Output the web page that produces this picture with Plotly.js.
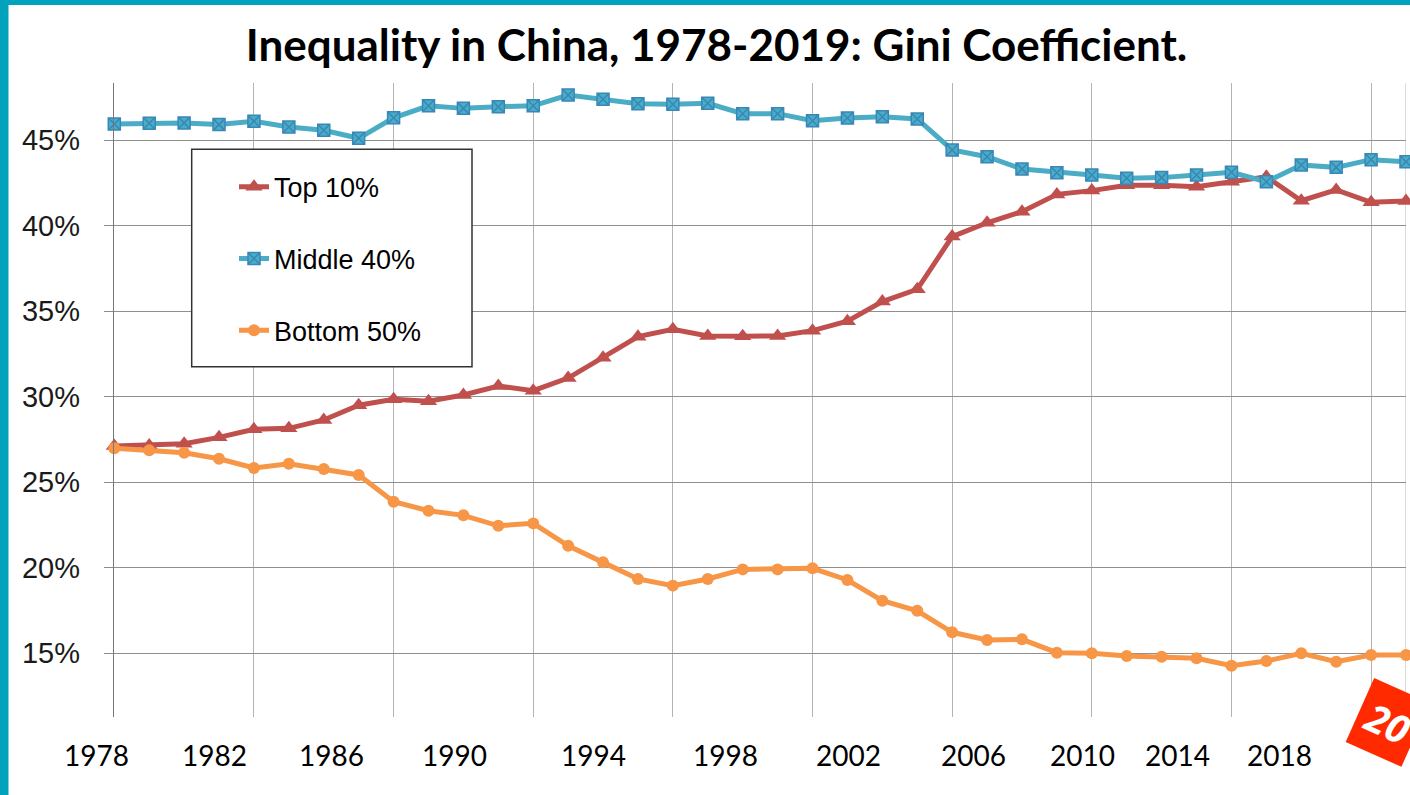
<!DOCTYPE html>
<html>
<head>
<meta charset="utf-8">
<script src="https://cdn.plot.ly/plotly-3.0.1.min.js"></script>
<style>html,body{margin:0;padding:0;background:#fff;}#chart{width:1410px;height:795px;}</style>
</head>
<body>
<div id="chart"></div>
<script>
// ---- data ----
const years = [1978,1979,1980,1981,1982,1983,1984,1985,1986,1987,1988,1989,1990,1991,1992,1993,1994,1995,1996,1997,1998,1999,2000,2001,2002,2003,2004,2005,2006,2007,2008,2009,2010,2011,2012,2013,2014,2015];
const top10 = [27.1,27.14,27.24,27.61,28.08,28.14,28.63,29.49,29.84,29.72,30.09,30.61,30.34,31.08,32.27,33.50,33.93,33.54,33.52,33.54,33.85,34.40,35.55,36.27,39.35,40.16,40.81,41.82,42.04,42.35,42.35,42.27,42.56,42.85,41.45,42.08,41.36,41.43];
const middle40 = [45.94,45.98,46.0,45.9,46.1,45.76,45.57,45.1,46.3,47.0,46.85,46.95,47.0,47.63,47.38,47.12,47.09,47.15,46.54,46.54,46.13,46.29,46.36,46.23,44.42,44.02,43.30,43.09,42.95,42.76,42.80,42.95,43.11,42.56,43.54,43.40,43.85,43.73];
const bottom50 = [26.97,26.85,26.71,26.36,25.82,26.07,25.76,25.41,23.85,23.32,23.05,22.44,22.58,21.27,20.30,19.33,18.94,19.33,19.89,19.89,19.95,19.27,18.06,17.47,16.21,15.76,15.80,15.02,14.98,14.82,14.78,14.69,14.26,14.53,14.98,14.49,14.88,14.88];
const seriesNames = ["Top 10%", "Middle 40%", "Bottom 50%"];
const xTickLabels = ["1978","1982","1986","1990","1994","1998","2002","2006","2010","2014","2018"];
const titleText = "Inequality in China, 1978-2019: Gini Coefficient.";
const badgeText = "20";

// ---- layout helpers (pixel geometry of the picture) ----
const W = 1410, H = 795;
const px = v => v / W;
const py = v => 1 - v / H;
const xTickCenters = [96.7,214,331,454.5,593.3,725,848.7,973.3,1082.5,1177,1279];

const traces = [
  {x: years, y: top10, name: seriesNames[0], legendgroup: 'a', type: 'scatter', mode: 'lines+markers',
   line: {color: '#C0504D', width: 5}, marker: {symbol: 'triangle-up', size: 15, color: '#C0504D'}, cliponaxis: false},
  {x: years, y: middle40, name: seriesNames[1], legendgroup: 'b', type: 'scatter', mode: 'lines+markers',
   line: {color: '#4BACC6', width: 5}, marker: {symbol: 'square-x', size: 12, color: '#4BACC6', line: {color: '#3787B8', width: 1.5}}, cliponaxis: false},
  {x: years, y: bottom50, name: seriesNames[2], legendgroup: 'c', type: 'scatter', mode: 'lines+markers',
   line: {color: '#F79646', width: 5}, marker: {symbol: 'circle', size: 12, color: '#F79646'}, cliponaxis: false}
];

const annotations = xTickLabels.map((t, i) => ({
  text: t, xref: 'paper', yref: 'paper', x: px(xTickCenters[i]), y: py(755),
  xanchor: 'center', yanchor: 'middle', showarrow: false,
  font: {family: 'Lato, "Open Sans", sans-serif', size: 28, color: '#000'}
}));
annotations.push({
  text: badgeText, xref: 'paper', yref: 'paper', x: px(1388), y: py(722),
  xanchor: 'center', yanchor: 'middle', showarrow: false, textangle: 24,
  bgcolor: '#FF2A00', borderpad: 8,
  font: {family: '"Open Sans", Lato, sans-serif', size: 39, color: '#fff', weight: 'bold', style: 'italic'}
});

const layout = {
  width: W, height: H,
  margin: {l: 0, r: 0, t: 0, b: 0, pad: 0},
  paper_bgcolor: '#fff', plot_bgcolor: '#fff',
  title: {text: titleText, x: px(716.5), xanchor: 'center', y: py(46), yanchor: 'middle', yref: 'container',
          font: {family: 'Lato, "Open Sans", sans-serif', size: 44, color: '#000', weight: 'bold'}},
  xaxis: {domain: [px(114.3), px(1406)], range: [1978, 2015], tickmode: 'linear', tick0: 1978, dtick: 4,
          showticklabels: false, ticks: '', showgrid: true, gridcolor: '#b4b4b4', gridwidth: 1,
          zeroline: false, showline: false, fixedrange: true},
  yaxis: {domain: [py(716.7), py(83.3)], range: [11.275, 48.316], tickmode: 'linear', tick0: 0, dtick: 5,
          ticksuffix: '%', ticks: 'outside', ticklen: 9, tickcolor: '#8c8c8c', tickwidth: 1,
          ticklabelstandoff: 18, automargin: false,
          showgrid: true, gridcolor: '#8f8f8f', gridwidth: 1, zeroline: false,
          showline: true, linecolor: '#777', linewidth: 1.5,
          tickfont: {family: '"Liberation Sans", Arial, sans-serif', size: 29, color: '#1a1a1a'}, fixedrange: true},
  showlegend: true,
  legend: {x: px(234), y: py(162.7), xanchor: 'left', yanchor: 'top', bgcolor: 'rgba(0,0,0,0)', borderwidth: 0,
           traceorder: 'grouped', tracegroupgap: 33.6,
           font: {family: '"Liberation Sans", Arial, sans-serif', size: 27, color: '#000'}},
  shapes: [
    {type: 'rect', xref: 'paper', yref: 'paper', x0: px(191.7), x1: px(472), y0: py(366.7), y1: py(149.3),
     fillcolor: '#fff', line: {color: '#333', width: 1.5}, layer: 'above'},
    {type: 'line', xref: 'x', yref: 'y domain', x0: 2015, x1: 2015, y0: 0, y1: 1, line: {color: '#b4b4b4', width: 1}, layer: 'below'},
    {type: 'rect', xref: 'paper', yref: 'paper', x0: 0, x1: px(8.5), y0: 0, y1: 1, fillcolor: '#00A3BB', line: {width: 0}, layer: 'above'},
    {type: 'rect', xref: 'paper', yref: 'paper', x0: 0, x1: 1, y0: py(5), y1: 1, fillcolor: '#00A3BB', line: {width: 0}, layer: 'above'}
  ],
  annotations: annotations
};

Plotly.newPlot('chart', traces, layout, {displayModeBar: false, staticPlot: true});
</script>
</body>
</html>
